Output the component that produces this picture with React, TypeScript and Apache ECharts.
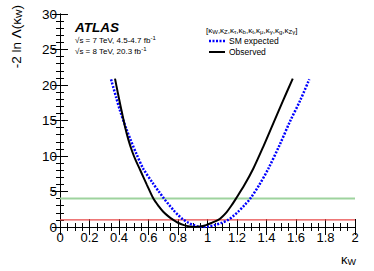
import React, { useEffect, useRef } from 'react';
import * as echarts from 'echarts';

const observedX = [0.373, 0.39, 0.41, 0.44, 0.465, 0.49, 0.515, 0.542, 0.59, 0.633, 0.67, 0.7, 0.735, 0.768, 0.8, 0.84, 0.88, 0.915, 0.95, 0.99, 1.03, 1.073, 1.1, 1.13, 1.16, 1.193, 1.25, 1.31, 1.38, 1.446, 1.51, 1.578];
const observedY = [20.9, 19.1, 17.1, 14.2, 12.2, 10.6, 9.3, 8.1, 5.9, 4.0, 2.9, 2.15, 1.5, 1.0, 0.6, 0.27, 0.07, 0.0, 0.06, 0.27, 0.6, 1.0, 1.45, 2.1, 2.95, 4.0, 5.9, 8.2, 11.4, 14.6, 17.7, 20.9];
const expectedX = [0.346, 0.38, 0.407, 0.45, 0.48, 0.52, 0.565, 0.63, 0.67, 0.705, 0.74, 0.77, 0.8, 0.835, 0.87, 0.9, 0.935, 0.97, 1.005, 1.05, 1.1, 1.14, 1.175, 1.21, 1.25, 1.29, 1.35, 1.412, 1.49, 1.56, 1.63, 1.69];
const expectedY = [20.8, 18.3, 16.4, 13.8, 12.2, 10.2, 8.2, 6.15, 5.0, 4.0, 3.1, 2.35, 1.7, 1.05, 0.6, 0.3, 0.08, 0.0, 0.07, 0.28, 0.62, 1.0, 1.55, 2.2, 3.05, 4.0, 5.9, 8.2, 11.6, 14.9, 17.9, 20.8];
const thresholdRed = 1;
const thresholdGreen = 4;
const xRange = [0, 2];
const yRange = [0, 30];

const FONT = "'Liberation Sans', Arial, Helvetica, sans-serif";

export default function App() {
  const ref = useRef<HTMLDivElement>(null);
  useEffect(() => {
    if (!ref.current) return;
    const chart = echarts.init(ref.current, undefined, { renderer: 'svg' });
    const tickCommon = {
      axisLine: { show: true, lineStyle: { color: '#000', width: 1 } },
      axisTick: { show: true, inside: true, length: 8, lineStyle: { color: '#000', width: 1 } },
      minorTick: { show: true, length: 4, lineStyle: { color: '#000', width: 1 } },
      splitLine: { show: false },
      minorSplitLine: { show: false },
    };
    const xBase = { type: 'value', min: xRange[0], max: xRange[1], interval: 0.2 };
    const yBase = { type: 'value', min: yRange[0], max: yRange[1], interval: 5 };
    chart.setOption({
      animation: false,
      backgroundColor: '#fff',
      textStyle: { fontFamily: FONT },
      grid: { left: 60, right: 19, top: 14, bottom: 44 },
      xAxis: [
        {
          ...xBase, position: 'bottom', ...tickCommon,
          minorTick: { ...tickCommon.minorTick, splitNumber: 4 },
          axisLabel: { color: '#000', fontSize: 13, margin: 4, fontFamily: FONT,
            formatter: (v: number) => String(Math.round(v * 10) / 10) },
        },
        {
          ...xBase, position: 'top', ...tickCommon,
          minorTick: { ...tickCommon.minorTick, splitNumber: 4 },
          axisLabel: { show: false },
        },
      ],
      yAxis: [
        {
          ...yBase, position: 'left', ...tickCommon,
          minorTick: { ...tickCommon.minorTick, splitNumber: 5 },
          axisLabel: { color: '#000', fontSize: 13.5, margin: 3, fontFamily: FONT },
        },
        {
          ...yBase, position: 'right', ...tickCommon,
          minorTick: { ...tickCommon.minorTick, splitNumber: 5 },
          axisLabel: { show: false },
        },
      ],
      series: [
        {
          type: 'line', name: 'red', symbol: 'none', silent: true,
          data: [[xRange[0], thresholdRed], [xRange[1], thresholdRed]],
          lineStyle: { color: '#e84a4a', width: 1.2 }, z: 1,
        },
        {
          type: 'line', name: 'green', symbol: 'none', silent: true,
          data: [[xRange[0], thresholdGreen], [xRange[1], thresholdGreen]],
          lineStyle: { color: '#9ed39e', width: 2 }, z: 1,
        },
        {
          type: 'line', name: 'SM expected', symbol: 'none', smooth: 0.3,
          data: expectedX.map((x, i) => [x, expectedY[i]]),
          lineStyle: { color: '#0000ff', width: 2.5, type: [2, 1.5] }, z: 3,
        },
        {
          type: 'line', name: 'Observed', symbol: 'none', smooth: 0.3,
          data: observedX.map((x, i) => [x, observedY[i]]),
          lineStyle: { color: '#000', width: 2 }, z: 4,
        },
      ],
      graphic: [
        {
          type: 'text', x: 16, y: 5, rotation: Math.PI / 2,
          style: {
            text: '-2 ln Λ(κ{s|W})', align: 'right', verticalAlign: 'middle',
            font: `13.5px ${FONT}`, fill: '#000',
            rich: { s: { fontSize: 9, fontFamily: FONT, verticalAlign: 'bottom', padding: [6, 0, 0, 0] } },
          },
        },
        {
          type: 'text', x: 341, y: 259,
          style: {
            text: 'κ{s|W}', align: 'left', verticalAlign: 'middle',
            font: `13px ${FONT}`, fill: '#000',
            rich: { s: { fontSize: 9, fontFamily: FONT, padding: [6, 0, 0, 0] } },
          },
        },
        {
          type: 'text', x: 75, y: 27,
          style: { text: 'ATLAS', font: `italic bold 13.5px ${FONT}`, fill: '#000', verticalAlign: 'middle' },
        },
        {
          type: 'text', x: 75, y: 40,
          style: {
            text: '√s = 7 TeV, 4.5-4.7 fb{sup|-1}', font: `8px ${FONT}`, fill: '#000', verticalAlign: 'middle',
            rich: { sup: { fontSize: 6, fontFamily: FONT, padding: [0, 0, 4, 0] } },
          },
        },
        {
          type: 'text', x: 75, y: 51,
          style: {
            text: '√s = 8 TeV, 20.3 fb{sup|-1}', font: `8px ${FONT}`, fill: '#000', verticalAlign: 'middle',
            rich: { sup: { fontSize: 6, fontFamily: FONT, padding: [0, 0, 4, 0] } },
          },
        },
        {
          type: 'text', x: 206, y: 30,
          style: {
            text: '[κ{s|W},κ{s|Z},κ{s|τ},κ{s|b},κ{s|t},κ{s|μ},κ{s|γ},κ{s|g},κ{s|Zγ}]',
            font: `8px ${FONT}`, fill: '#000', verticalAlign: 'middle',
            rich: { s: { fontSize: 6, fontFamily: FONT, padding: [4, 0, 0, 0] } },
          },
        },
        {
          type: 'line', shape: { x1: 209, y1: 41, x2: 225, y2: 41 },
          style: { stroke: '#0000ff', lineWidth: 2.5, lineDash: [2, 1.5] },
        },
        {
          type: 'text', x: 229, y: 41,
          style: { text: 'SM expected', font: `8.5px ${FONT}`, fill: '#000', verticalAlign: 'middle' },
        },
        {
          type: 'line', shape: { x1: 209, y1: 52, x2: 225, y2: 52 },
          style: { stroke: '#000', lineWidth: 2 },
        },
        {
          type: 'text', x: 229, y: 52,
          style: { text: 'Observed', font: `8.5px ${FONT}`, fill: '#000', verticalAlign: 'middle' },
        },
      ],
    });
    return () => chart.dispose();
  }, []);
  return <div ref={ref} style={{ position: 'fixed', left: 0, top: 0, width: 374, height: 271 }} />;
}
